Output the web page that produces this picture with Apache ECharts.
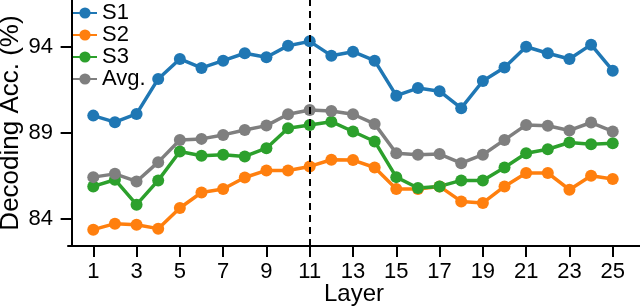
<!DOCTYPE html>
<html>
<head>
<meta charset="utf-8">
<script src="https://cdn.jsdelivr.net/npm/echarts@6/dist/echarts.min.js"></script>
<style>html,body{margin:0;padding:0;background:#fff}#c{width:640px;height:307px}</style>
</head>
<body>
<div id="c"></div>
<script>
const layers = [1,2,3,4,5,6,7,8,9,10,11,12,13,14,15,16,17,18,19,20,21,22,23,24,25];
const s1 = [90.0,89.62,90.1,92.13,93.29,92.77,93.19,93.62,93.39,94.06,94.31,93.48,93.71,93.19,91.16,91.6,91.42,90.43,92.01,92.79,94.0,93.62,93.29,94.12,92.61];
const s2 = [83.38,83.73,83.67,83.44,84.64,85.54,85.74,86.41,86.82,86.82,87.05,87.44,87.42,86.99,85.74,85.74,85.89,85.02,84.93,85.89,86.67,86.67,85.70,86.51,86.32];
const s3 = [85.89,86.28,84.83,86.24,87.92,87.67,87.73,87.63,88.11,89.27,89.46,89.65,89.08,88.50,86.43,85.80,85.89,86.24,86.24,86.99,87.82,88.05,88.44,88.34,88.40];
const avg = [86.43,86.62,86.18,87.30,88.59,88.65,88.88,89.17,89.42,90.08,90.33,90.27,90.08,89.52,87.82,87.73,87.77,87.24,87.73,88.59,89.46,89.41,89.14,89.60,89.08];
const xTicks = [1,3,5,7,9,11,13,15,17,19,21,23,25];
const yTicks = [84,89,94];
const bestLayer = 11;

const names = ['S1','S2','S3','Avg.'];
const colors = ['#1f77b4','#ff7f0e','#2ca02c','#7f7f7f'];
const datas = [s1,s2,s3,avg];
const font = 'Liberation Sans, Arial, sans-serif';

const series = datas.map((d,i)=>({
  name: names[i],
  type: 'line',
  data: layers.map((l,j)=>[l,d[j]]),
  symbol: 'circle',
  symbolSize: 12,
  lineStyle: {width: 3.5, color: colors[i]},
  itemStyle: {color: colors[i]},
  z: 3,
  animation: false
}));
series.push({
  type: 'line',
  data: [],
  markLine: {
    silent: true,
    symbol: 'none',
    label: {show: false},
    lineStyle: {color: '#000', type: [7,5], width: 2},
    data: [{xAxis: bestLayer}]
  },
  z: 2,
  animation: false
});

const pxPerUnit = (219 - 46.7) / 10;
const chart = echarts.init(document.getElementById('c'), null, {renderer: 'canvas'});
chart.setOption({
  animation: false,
  backgroundColor: '#fff',
  color: colors,
  grid: {left: 68, right: 0, top: 0, bottom: 61, outerBoundsMode: 'none', containLabel: false},
  legend: {
    data: names,
    orient: 'vertical',
    left: 72,
    top: 2,
    padding: 0,
    itemWidth: 24,
    itemHeight: 14,
    itemGap: 0,
    textStyle: {fontFamily: font, fontSize: 22, color: '#000', lineHeight: 21}
  },
  xAxis: {
    type: 'value',
    min: 1 - 25.3/21.67,
    max: 25 + 27.3/21.67,
    name: 'Layer',
    nameLocation: 'middle',
    nameGap: 36,
    nameMoveOverlap: false,
    nameTextStyle: {fontFamily: font, fontSize: 24, color: '#000'},
    splitLine: {show: false},
    axisLine: {lineStyle: {color: '#000', width: 2}},
    axisTick: {show: true, length: 11, lineStyle: {color: '#000', width: 2}, customValues: xTicks},
    axisLabel: {fontFamily: font, fontSize: 22, color: '#000', margin: 15, customValues: xTicks}
  },
  yAxis: {
    type: 'value',
    min: 84 - 27/pxPerUnit,
    max: 94 + 46.7/pxPerUnit,
    name: 'Decoding Acc. (%)',
    nameLocation: 'middle',
    nameGap: 44,
    nameMoveOverlap: false,
    nameTextStyle: {fontFamily: font, fontSize: 26, color: '#000'},
    splitLine: {show: false},
    axisLine: {show: true, lineStyle: {color: '#000', width: 2}},
    axisTick: {show: true, length: 11, lineStyle: {color: '#000', width: 2}, customValues: yTicks},
    axisLabel: {fontFamily: font, fontSize: 22, color: '#000', margin: 15, customValues: yTicks}
  },
  series: series
});
</script>
</body>
</html>
